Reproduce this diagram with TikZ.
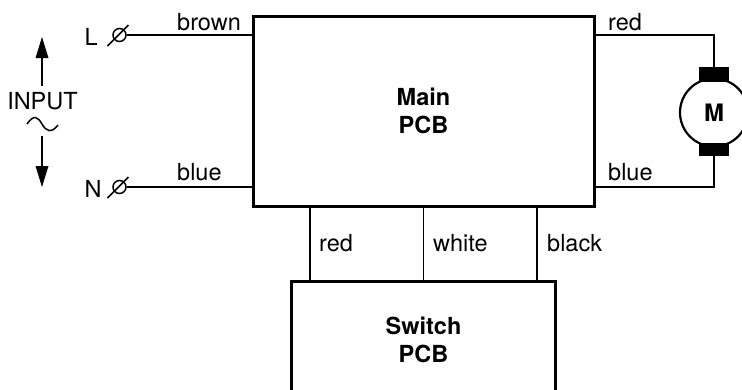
\documentclass[tikz,border=0pt]{standalone}
\usepackage{fontspec}
\setmainfont{TeX Gyre Heros}
\tikzset{
  pcb/.style={draw=black,line width=3pt,fill=white,align=center,font=\fontsize{23.5}{28}\selectfont\bfseries,inner sep=0pt},
  wire/.style={draw=black,line width=1.5pt},
  lbl/.style={font=\fontsize{23.5}{27}\selectfont,inner sep=0pt,anchor=base west},
  arrowline/.style={draw=black,line width=1.6pt},
  arrowheadshape/.style={fill=black},
  terminal/.style={circle,draw=black,line width=1.5pt,minimum size=13pt,inner sep=0pt},
}
\begin{document}
\begin{tikzpicture}[x=1pt,y=-1pt]
\useasboundingbox (0,0) rectangle (742,389);
\clip (0,0) rectangle (742,389);
\node[pcb,minimum width=341pt,minimum height=190pt] (main) at (423.5,111) {Main\\PCB};
\node[pcb,minimum width=264.5pt,minimum height=117pt] (switch) at (423.5,340) {Switch\\PCB};
% terminals
\node[terminal] (tl) at (119.5,35) {};
\node[terminal] (tn) at (119.5,187) {};
\coordinate (tla) at (107.5,46); \coordinate (tlb) at (128.5,25);
\coordinate (tna) at (107.5,198); \coordinate (tnb) at (128.5,177);
\draw[wire] (tla) -- (tlb);
\draw[wire] (tna) -- (tnb);
\draw[wire] (tl.east) -- (tl.east -| main.west);
\draw[wire] (tn.east) -- (tn.east -| main.west);
% motor
\node[circle,draw=black,line width=2.2pt,fill=white,minimum size=68pt,inner sep=0pt,font=\fontsize{24}{27}\selectfont\bfseries] (motor) at (714,112.5) {M};
\node[fill=black,minimum width=30pt,minimum height=15pt,inner sep=0pt] (bt) at (714,74.5) {};
\node[fill=black,minimum width=30pt,minimum height=13pt,inner sep=0pt] (bb) at (714,149.5) {};
\coordinate (mt) at (714,35);
\coordinate (mb) at (714,187);
\draw[wire] (main.east |- mt) -- (mt) -- (bt.north);
\draw[wire] (main.east |- mb) -- (mb) -- (bb.south);
% links
\foreach \n/\xx in {a/310,b/423.5,c/537}{
  \coordinate (\n) at (\xx,206);
  \draw[wire] (\n |- main.south) -- (\n |- switch.north);
}
% wire labels
\node[lbl] (l1) at (177,30) {brown};
\node[lbl] (l2) at (177,180) {blue};
\node[lbl] (l3) at (608,30) {red};
\node[lbl] (l4) at (608,180) {blue};
\node[lbl] (l5) at (319,251) {red};
\node[lbl] (l6) at (433,251) {white};
\node[lbl] (l7) at (547,251) {black};
\node[lbl] (L) at (84.5,45) {L};
\node[lbl] (N) at (84.5,197) {N};
\node[lbl,anchor=base] (inp) at (42.5,109) {INPUT};
% input arrows
\coordinate (ua) at (42,86); \coordinate (ub) at (42,58);
\coordinate (da) at (42,136); \coordinate (db) at (42,166);
\draw[arrowline] (ua) -- (ub);
\draw[arrowline] (da) -- (db);
\fill[arrowheadshape] (42,37) -- (48.5,58) -- (35.5,58) -- cycle;
\fill[arrowheadshape] (42,187) -- (48.5,166) -- (35.5,166) -- cycle;
% tilde
\draw[line width=1.5pt] (27,124) .. controls (34,114) and (38,117) .. (42,124) .. controls (46,131) and (51,134) .. (58,125);
\end{tikzpicture}
\end{document}
